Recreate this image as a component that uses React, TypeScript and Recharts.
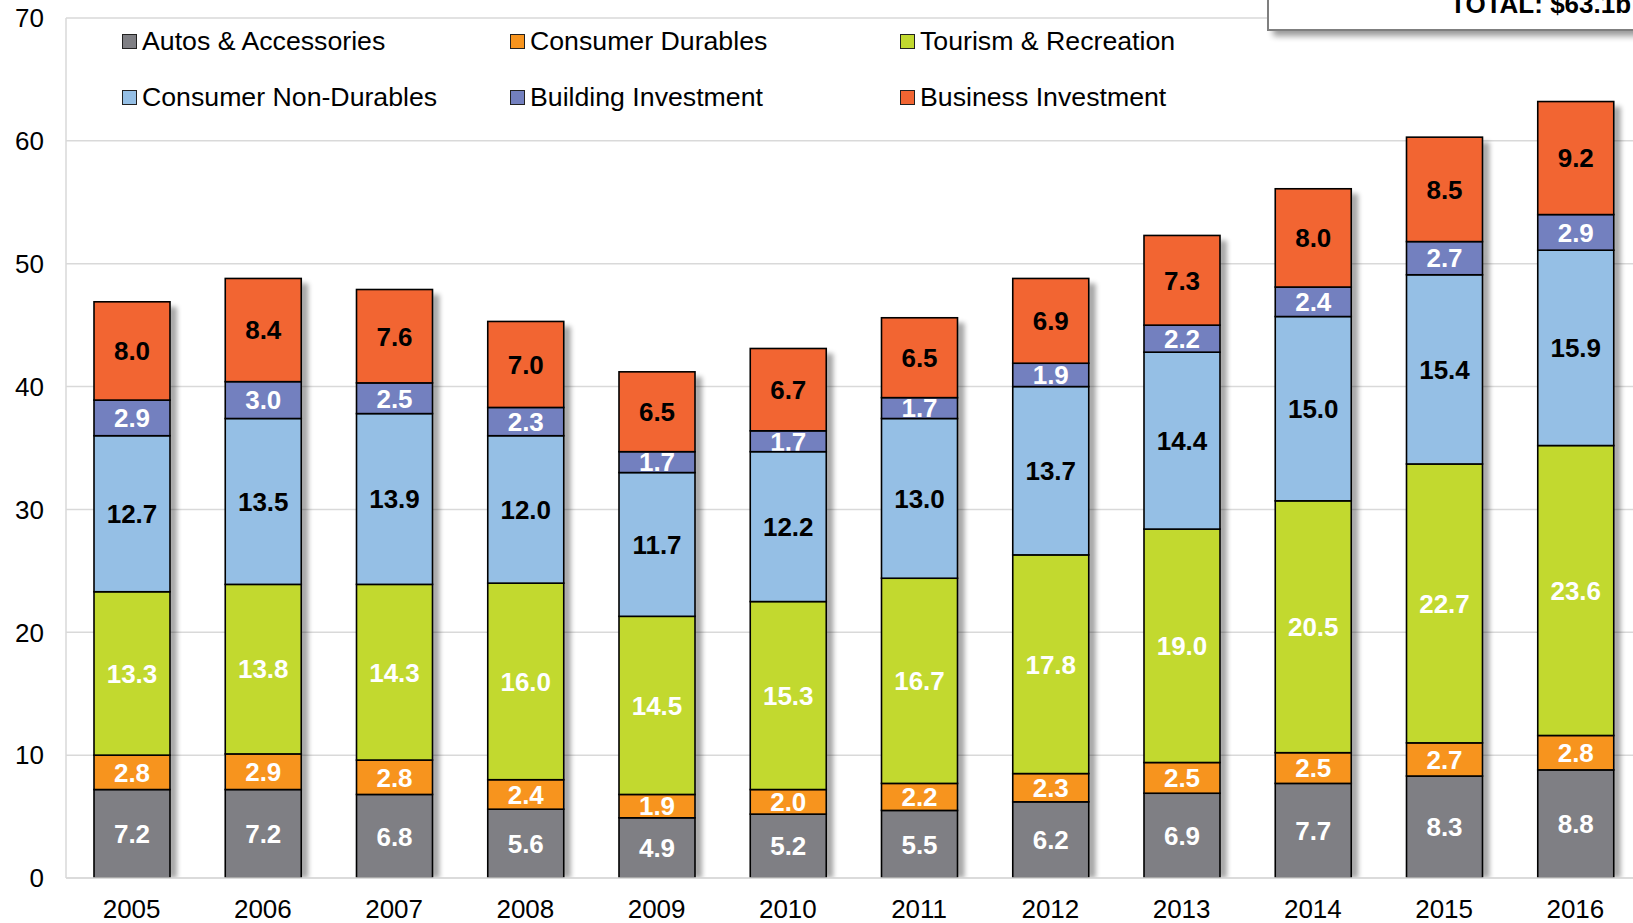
import React from 'react';
import { BarChart, Bar, XAxis, YAxis, CartesianGrid, LabelList } from 'recharts';

const years = ['2005', '2006', '2007', '2008', '2009', '2010', '2011', '2012', '2013', '2014', '2015', '2016'];
const autos = [7.2, 7.2, 6.8, 5.6, 4.9, 5.2, 5.5, 6.2, 6.9, 7.7, 8.3, 8.8];
const durables = [2.8, 2.9, 2.8, 2.4, 1.9, 2.0, 2.2, 2.3, 2.5, 2.5, 2.7, 2.8];
const tourism = [13.3, 13.8, 14.3, 16.0, 14.5, 15.3, 16.7, 17.8, 19.0, 20.5, 22.7, 23.6];
const nonDurables = [12.7, 13.5, 13.9, 12.0, 11.7, 12.2, 13.0, 13.7, 14.4, 15.0, 15.4, 15.9];
const building = [2.9, 3.0, 2.5, 2.3, 1.7, 1.7, 1.7, 1.9, 2.2, 2.4, 2.7, 2.9];
const business = [8.0, 8.4, 7.6, 7.0, 6.5, 6.7, 6.5, 6.9, 7.3, 8.0, 8.5, 9.2];
const yTicks = [0, 10, 20, 30, 40, 50, 60, 70];
const totalLabel = 'TOTAL: $63.1b';

const series = [
  { key: 'autos', name: 'Autos & Accessories', values: autos, color: '#7F7F84', text: '#FFFFFF' },
  { key: 'durables', name: 'Consumer Durables', values: durables, color: '#F7941E', text: '#FFFFFF' },
  { key: 'tourism', name: 'Tourism & Recreation', values: tourism, color: '#C2D92F', text: '#FFFFFF' },
  { key: 'nonDurables', name: 'Consumer Non-Durables', values: nonDurables, color: '#95BFE5', text: '#000000' },
  { key: 'building', name: 'Building Investment', values: building, color: '#7380BF', text: '#FFFFFF' },
  { key: 'business', name: 'Business Investment', values: business, color: '#F26532', text: '#000000' },
];

const legendOrder = [
  ['autos', 'durables', 'tourism'],
  ['nonDurables', 'building', 'business'],
];

const data = years.map((year, i) => {
  const row: any = { year };
  let total = 0;
  series.forEach((s) => {
    row[s.key] = s.values[i];
    total += s.values[i];
  });
  row.total = total;
  return row;
});

const FONT = '"Liberation Sans", Arial, Helvetica, sans-serif';

const FirstShape = (props: any) => {
  const { x, y, width, height, fill, payload, value } = props;
  const v = Array.isArray(value) ? value[1] - value[0] : value;
  const perUnit = v ? height / v : 0;
  const totalH = payload.total * perUnit;
  const top = y + height - totalH;
  return (
    <g>
      <rect x={x + width - 2} y={top + 5} width={9} height={totalH - 5} fill="#000" opacity={0.35} filter="url(#barShadow)" />
      <rect x={x} y={y} width={width} height={height} fill={fill} stroke="#000" strokeWidth={1.6} />
    </g>
  );
};

const PlainShape = (props: any) => {
  const { x, y, width, height, fill } = props;
  return <rect x={x} y={y} width={width} height={height} fill={fill} stroke="#000" strokeWidth={1.6} />;
};

const makeLabel = (key: string, color: string) => (props: any) => {
  const { x, y, width, height, value, index } = props;
  const nx = Number(x), ny = Number(y), nw = Number(width), nh = Number(height);
  const id = `clip-${key}-${index}`;
  return (
    <g>
      <defs>
        <clipPath id={id}>
          <rect x={nx} y={ny + 1} width={nw} height={nh - 2} />
        </clipPath>
      </defs>
      <text
        x={nx + nw / 2}
        y={ny + nh / 2 + 9.3}
        textAnchor="middle"
        fill={color}
        fontSize={26}
        fontWeight="bold"
        fontFamily={FONT}
        clipPath={`url(#${id})`}
      >
        {Number(value).toFixed(1)}
      </text>
    </g>
  );
};

const legendCols = [122, 510, 900];
const legendRows = [41, 97];

export default function App() {
  return (
    <div style={{ position: 'absolute', left: 0, top: 0, width: 1633, height: 923, overflow: 'hidden', background: '#fff', fontFamily: FONT }}>
      <svg width={0} height={0} style={{ position: 'absolute' }}>
        <defs>
          <filter id="barShadow" x="-100%" y="-10%" width="300%" height="120%">
            <feGaussianBlur stdDeviation="2.5" />
          </filter>
          <filter id="boxShadow" x="-10%" y="-50%" width="120%" height="200%">
            <feGaussianBlur stdDeviation="3" />
          </filter>
        </defs>
      </svg>
      <div style={{ position: 'absolute', left: 0, top: 0 }}>
        <BarChart width={1641} height={923} data={data} margin={{ top: 18, right: 0, left: 0, bottom: 0 }} barSize={76}>
          <CartesianGrid vertical={false} stroke="#D9D9D9" strokeWidth={1.5} />
          <XAxis
            dataKey="year"
            height={45}
            tickLine={false}
            tickSize={0}
            tickMargin={22}
            axisLine={{ stroke: '#D9D9D9', strokeWidth: 1.5 }}
            tick={{ fontSize: 26, fill: '#000', fontFamily: FONT }}
            interval={0}
          />
          <YAxis
            width={66}
            domain={[0, 70]}
            ticks={yTicks}
            tickLine={false}
            tickSize={0}
            tickMargin={22}
            axisLine={{ stroke: '#D9D9D9', strokeWidth: 1.5 }}
            tick={{ fontSize: 26, fill: '#000', fontFamily: FONT }}
            allowDataOverflow
          />
          {series.map((s, i) => (
            <Bar
              key={s.key}
              dataKey={s.key}
              name={s.name}
              stackId="a"
              fill={s.color}
              isAnimationActive={false}
              shape={i === 0 ? FirstShape : PlainShape}
            >
              <LabelList dataKey={s.key} content={makeLabel(s.key, s.text)} />
            </Bar>
          ))}
        </BarChart>
      </div>
      {legendOrder.map((row, r) =>
        row.map((k, c) => {
          const s = series.find((q) => q.key === k)!;
          return (
            <div
              key={k}
              style={{
                position: 'absolute',
                left: legendCols[c],
                top: legendRows[r] - 16,
                height: 32,
                display: 'flex',
                alignItems: 'center',
                fontSize: 26.7,
                color: '#000',
                whiteSpace: 'nowrap',
              }}
            >
              <span
                style={{
                  display: 'inline-block',
                  width: 13,
                  height: 13,
                  background: s.color,
                  border: '1.5px solid #222',
                  marginRight: 5,
                }}
              />
              <span>{s.name}</span>
            </div>
          );
        })
      )}
      <svg width={1633} height={923} style={{ position: 'absolute', left: 0, top: 0, pointerEvents: 'none' }}>
        <rect x={1273} y={-40} width={400} height={76} fill="#000" opacity={0.4} filter="url(#boxShadow)" />
        <rect x={1268} y={-40} width={400} height={70} fill="#fff" stroke="#7F7F7F" strokeWidth={2} />
        <text x={1450} y={12.5} fontSize={26} fontWeight="bold" fontFamily={FONT} fill="#000">
          {totalLabel}
        </text>
      </svg>
    </div>
  );
}
